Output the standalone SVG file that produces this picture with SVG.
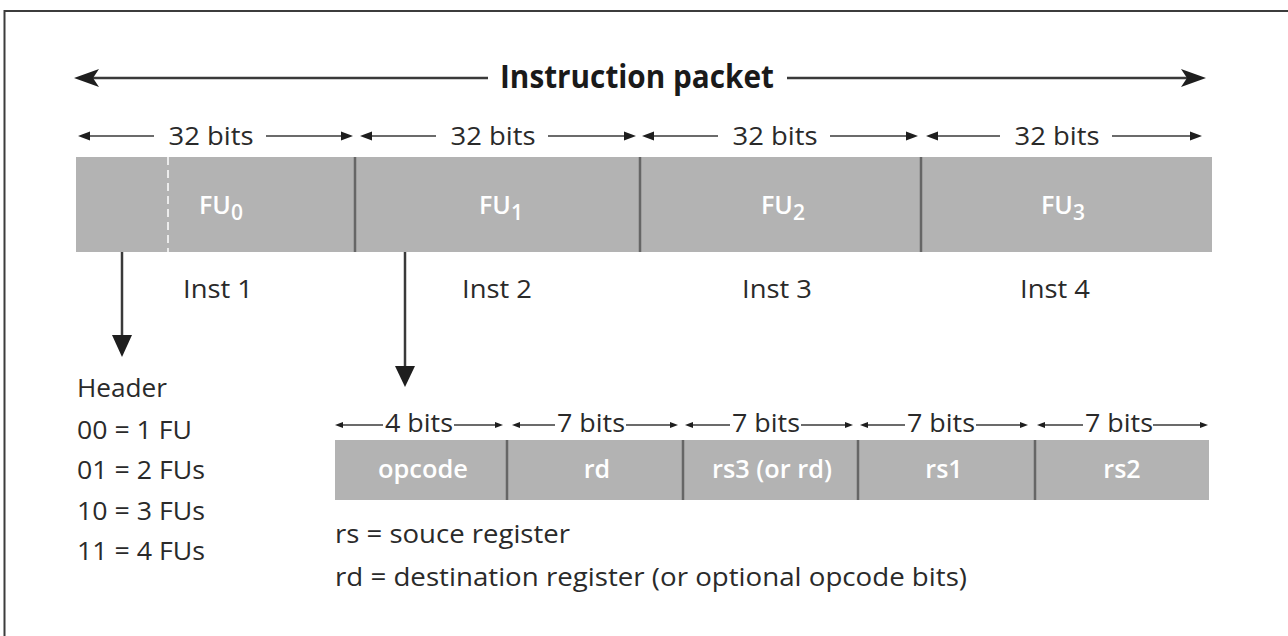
<svg xmlns="http://www.w3.org/2000/svg" width="1288" height="636" viewBox="0 0 1288 636">
  <style>
    .txt { font-family: "Open Sans", "Liberation Sans", sans-serif; font-size: 26px; fill: #2a2a2a; }
    .title { font-family: "Open Sans", "Liberation Sans", sans-serif; font-size: 32px; font-weight: bold; fill: #1a1a1a; }
    .cell { font-family: "Open Sans", "Liberation Sans", sans-serif; font-size: 25px; font-weight: 600; fill: #ffffff; }
    .sub { font-size: 21px; }
    .bar { fill: #b3b3b3; }
    .div { stroke: #666666; stroke-width: 2.5; }
    .ln { stroke: #3a3a3a; stroke-width: 2.5; fill: none; }
    .thin { stroke: #3a3a3a; stroke-width: 1.6; fill: none; }
    .head { fill: #1e1e1e; }
  </style>

  <!-- outer frame (left and top edges) -->
  <path d="M4.5 636 V11 H1288" fill="none" stroke="#3c3c3c" stroke-width="2"/>

  <!-- packet-wide dimension arrow -->
  <g id="title">
    <line class="ln" x1="92" y1="78" x2="488" y2="78"/>
    <line class="ln" x1="787" y1="78" x2="1190" y2="78"/>
    <path class="head" d="M74 78 L99 69 L93 78 L99 87 Z"/>
    <path class="head" d="M1206 78 L1181 69 L1187 78 L1181 87 Z"/>
    <text class="title" x="637" y="88" text-anchor="middle" textLength="274" lengthAdjust="spacingAndGlyphs">Instruction packet</text>
  </g>

  <!-- 32-bit slot dimensions -->
  <g id="slot-widths">
    <g>
      <line class="thin" x1="84" y1="136" x2="154" y2="136"/>
      <line class="thin" x1="266" y1="136" x2="346" y2="136"/>
      <path class="head" d="M78 136 L90 131.5 L90 140.5 Z"/>
      <path class="head" d="M353 136 L341 131.5 L341 140.5 Z"/>
      <text class="txt" x="211" y="145" text-anchor="middle" textLength="85" lengthAdjust="spacingAndGlyphs">32 bits</text>
    </g>
    <g>
      <line class="thin" x1="366" y1="136" x2="436" y2="136"/>
      <line class="thin" x1="548" y1="136" x2="629" y2="136"/>
      <path class="head" d="M360 136 L372 131.5 L372 140.5 Z"/>
      <path class="head" d="M636 136 L624 131.5 L624 140.5 Z"/>
      <text class="txt" x="493" y="145" text-anchor="middle" textLength="85" lengthAdjust="spacingAndGlyphs">32 bits</text>
    </g>
    <g>
      <line class="thin" x1="648" y1="136" x2="718" y2="136"/>
      <line class="thin" x1="830" y1="136" x2="911" y2="136"/>
      <path class="head" d="M642 136 L654 131.5 L654 140.5 Z"/>
      <path class="head" d="M918 136 L906 131.5 L906 140.5 Z"/>
      <text class="txt" x="775" y="145" text-anchor="middle" textLength="85" lengthAdjust="spacingAndGlyphs">32 bits</text>
    </g>
    <g>
      <line class="thin" x1="932" y1="136" x2="1000" y2="136"/>
      <line class="thin" x1="1112" y1="136" x2="1195" y2="136"/>
      <path class="head" d="M926 136 L938 131.5 L938 140.5 Z"/>
      <path class="head" d="M1202 136 L1190 131.5 L1190 140.5 Z"/>
      <text class="txt" x="1057" y="145" text-anchor="middle" textLength="85" lengthAdjust="spacingAndGlyphs">32 bits</text>
    </g>
  </g>

  <!-- instruction packet bar with four FU slots -->
  <g id="packet">
    <rect class="bar" x="76" y="157" width="1136" height="95"/>
    <line x1="168" y1="157" x2="168" y2="252" stroke="#ffffff" stroke-width="1.5" stroke-dasharray="8 5"/>
    <line class="div" x1="355" y1="157" x2="355" y2="252"/>
    <line class="div" x1="640" y1="157" x2="640" y2="252"/>
    <line class="div" x1="921" y1="157" x2="921" y2="252"/>
    <text class="cell" x="199" y="214">FU<tspan class="sub" dy="6">0</tspan></text>
    <text class="cell" x="479" y="214">FU<tspan class="sub" dy="6">1</tspan></text>
    <text class="cell" x="761" y="214">FU<tspan class="sub" dy="6">2</tspan></text>
    <text class="cell" x="1041" y="214">FU<tspan class="sub" dy="6">3</tspan></text>
  </g>

  <g id="inst-labels">
    <text class="txt" x="183" y="298" textLength="70" lengthAdjust="spacingAndGlyphs">Inst 1</text>
    <text class="txt" x="462" y="298" textLength="70" lengthAdjust="spacingAndGlyphs">Inst 2</text>
    <text class="txt" x="742" y="298" textLength="70" lengthAdjust="spacingAndGlyphs">Inst 3</text>
    <text class="txt" x="1020" y="298" textLength="70" lengthAdjust="spacingAndGlyphs">Inst 4</text>
  </g>

  <!-- header encoding legend -->
  <g id="header-legend">
    <text class="txt" x="77" y="397" textLength="90" lengthAdjust="spacingAndGlyphs">Header</text>
    <text class="txt" x="77" y="439" textLength="115" lengthAdjust="spacingAndGlyphs">00 = 1 FU</text>
    <text class="txt" x="77" y="479" textLength="128" lengthAdjust="spacingAndGlyphs">01 = 2 FUs</text>
    <text class="txt" x="77" y="520" textLength="128" lengthAdjust="spacingAndGlyphs">10 = 3 FUs</text>
    <text class="txt" x="77" y="560" textLength="128" lengthAdjust="spacingAndGlyphs">11 = 4 FUs</text>
  </g>

  <!-- field widths of one instruction -->
  <g id="field-widths">
    <line class="thin" x1="340" y1="425" x2="383" y2="425"/>
    <line class="thin" x1="454" y1="425" x2="498" y2="425"/>
    <path class="head" d="M335 425 L343 422 L343 428 Z"/>
    <path class="head" d="M503 425 L495 422 L495 428 Z"/>
    <text class="txt" x="385" y="432" textLength="68" lengthAdjust="spacingAndGlyphs">4 bits</text>

    <line class="thin" x1="517" y1="425" x2="555" y2="425"/>
    <line class="thin" x1="626" y1="425" x2="673" y2="425"/>
    <path class="head" d="M512 425 L520 422 L520 428 Z"/>
    <path class="head" d="M678 425 L670 422 L670 428 Z"/>
    <text class="txt" x="557" y="432" textLength="68" lengthAdjust="spacingAndGlyphs">7 bits</text>

    <line class="thin" x1="690" y1="425" x2="730" y2="425"/>
    <line class="thin" x1="801" y1="425" x2="848" y2="425"/>
    <path class="head" d="M685 425 L693 422 L693 428 Z"/>
    <path class="head" d="M853 425 L845 422 L845 428 Z"/>
    <text class="txt" x="732" y="432" textLength="68" lengthAdjust="spacingAndGlyphs">7 bits</text>

    <line class="thin" x1="865" y1="425" x2="905" y2="425"/>
    <line class="thin" x1="976" y1="425" x2="1023" y2="425"/>
    <path class="head" d="M860 425 L868 422 L868 428 Z"/>
    <path class="head" d="M1028 425 L1020 422 L1020 428 Z"/>
    <text class="txt" x="907" y="432" textLength="68" lengthAdjust="spacingAndGlyphs">7 bits</text>

    <line class="thin" x1="1042" y1="425" x2="1083" y2="425"/>
    <line class="thin" x1="1153" y1="425" x2="1203" y2="425"/>
    <path class="head" d="M1037 425 L1045 422 L1045 428 Z"/>
    <path class="head" d="M1208 425 L1200 422 L1200 428 Z"/>
    <text class="txt" x="1085" y="432" textLength="68" lengthAdjust="spacingAndGlyphs">7 bits</text>
  </g>

  <!-- instruction field bar -->
  <g id="fields">
    <rect class="bar" x="335" y="440" width="874" height="60"/>
    <line class="div" x1="507" y1="440" x2="507" y2="500"/>
    <line class="div" x1="683" y1="440" x2="683" y2="500"/>
    <line class="div" x1="858" y1="440" x2="858" y2="500"/>
    <line class="div" x1="1035" y1="440" x2="1035" y2="500"/>
    <text class="cell" x="423" y="478" text-anchor="middle" textLength="90" lengthAdjust="spacingAndGlyphs">opcode</text>
    <text class="cell" x="597" y="478" text-anchor="middle">rd</text>
    <text class="cell" x="772" y="478" text-anchor="middle" textLength="120" lengthAdjust="spacingAndGlyphs">rs3 (or rd)</text>
    <text class="cell" x="944" y="478" text-anchor="middle">rs1</text>
    <text class="cell" x="1122" y="478" text-anchor="middle">rs2</text>
  </g>

  <g id="notes">
    <text class="txt" x="335" y="543" textLength="235" lengthAdjust="spacingAndGlyphs">rs = souce register</text>
    <text class="txt" x="335" y="586" textLength="632" lengthAdjust="spacingAndGlyphs">rd = destination register (or optional opcode bits)</text>
  </g>

  <!-- pointer arrows from the packet bar -->
  <g id="connectors">
    <line class="ln" x1="122" y1="252" x2="122" y2="340"/>
    <path class="head" d="M122 357 L112 335 L132 335 Z"/>
    <line class="ln" x1="405" y1="252" x2="405" y2="370"/>
    <path class="head" d="M405 387 L395 366 L415 366 Z"/>
  </g>
</svg>
